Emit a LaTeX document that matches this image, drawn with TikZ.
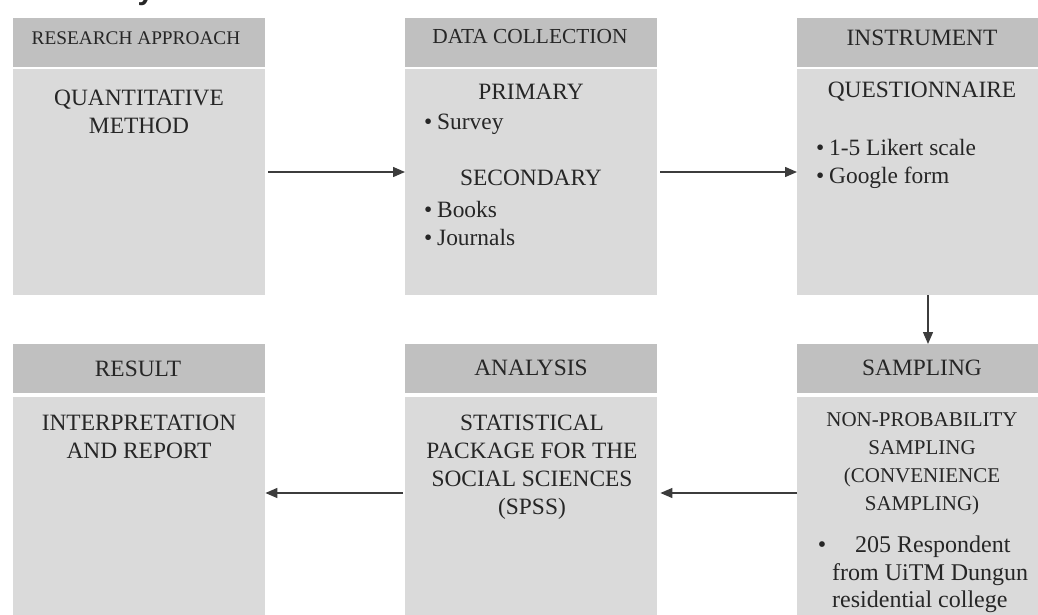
\documentclass[tikz,border=0pt]{standalone}
\usepackage{fontspec}
\setmainfont{Liberation Serif}
\newfontfamily\captionsans{Liberation Sans}
\usetikzlibrary{arrows.meta}
\definecolor{headgray}{RGB}{192,192,192}
\definecolor{bodygray}{RGB}{218,218,218}
\definecolor{ink}{RGB}{38,38,38}
\definecolor{linegray}{RGB}{60,60,60}
\tikzset{
  headbox/.style={fill=headgray, draw=none, inner sep=0pt, minimum width=252pt,
                  minimum height=49pt, anchor=north west},
  bodybox/.style={fill=bodygray, draw=none, inner sep=0pt, minimum width=252pt,
                  minimum height=#1, anchor=north west},
  headtxt/.style={text=ink, inner sep=0pt, anchor=base,
                  font=\fontsize{#1}{28}\selectfont},
  headtxt/.default=23.4,
  % multi-line blocks: the base anchor sits on the last line
  bodytxt/.style={text=ink, inner sep=0pt, anchor=base, align=center,
                  font=\fontsize{#1}{28}\selectfont},
  bodytxt/.default=23.4,
  itemtxt/.style={text=ink, inner sep=0pt, anchor=base west,
                  font=\fontsize{#1}{28}\selectfont},
  itemtxt/.default=23.4,
  flow/.style={draw=linegray, line width=1.4pt, -{Triangle[length=12pt,width=10pt]}}
}
\newcommand\itembullet{\llap{\textbullet\hspace{5pt}}}
\begin{document}
\begin{tikzpicture}[x=1pt,y=-1pt]
\useasboundingbox (0,0) rectangle (1038,615);

% caption fragment running off the top edge
\node[text=ink, inner sep=0pt, anchor=base, font=\captionsans\bfseries\fontsize{30}{30}\selectfont]
  (cap) at (146,0) {y};

% ---- top row ----
\node[headbox] (h1) at (13,18) {};
\node[bodybox=226pt] (b1) at (13,69) {};
\node[headbox] (h2) at (405,18) {};
\node[bodybox=226pt] (b2) at (405,69) {};
\node[headbox] (h3) at (797,18) {};
\node[bodybox=226pt] (h3b) at (797,69) {};

% ---- bottom row ----
\node[headbox] (h4) at (13,344) {};
\node[bodybox=240pt] (b4) at (13,397) {};
\node[headbox] (h5) at (405,344) {};
\node[bodybox=240pt] (b5) at (405,397) {};
\node[headbox] (h6) at (797,344) {};
\node[bodybox=240pt] (b6) at (797,397) {};

% ---- headings ----
\node[headtxt=19.3] (t1) at (136,45) {RESEARCH APPROACH};
\node[headtxt=21.4] (t2) at (530,44) {DATA COLLECTION};
\node[headtxt] (t3) at (922,46) {INSTRUMENT};
\node[headtxt] (t4) at (138,376) {RESULT};
\node[headtxt] (t5) at (531,375) {ANALYSIS};
\node[headtxt] (t6) at (922,375) {SAMPLING};

% ---- research approach ----
\node[bodytxt] (qm) at (139,133) {QUANTITATIVE\\METHOD};

% ---- data collection ----
\node[bodytxt] (pri) at (531,100) {PRIMARY};
\node[itemtxt] (sv) at (437,130) {\itembullet Survey};
\node[bodytxt] (sec) at (531,185) {SECONDARY};
\node[itemtxt] (bk) at (437,217) {\itembullet Books};
\node[itemtxt] (jn) at (437,245) {\itembullet Journals};

% ---- instrument ----
\node[bodytxt] (qn) at (922,98) {QUESTIONNAIRE};
\node[itemtxt] (lk) at (829,155) {\itembullet 1-5 Likert scale};
\node[itemtxt] (gf) at (829,183) {\itembullet Google form};

% ---- result ----
\node[bodytxt] (ir) at (139,458) {INTERPRETATION\\AND REPORT};

% ---- analysis ----
\node[bodytxt] (sp) at (532,514) {STATISTICAL\\PACKAGE FOR THE\\SOCIAL SCIENCES\\(SPSS)};

% ---- sampling ----
\node[bodytxt=21] (np) at (922,510) {NON-PROBABILITY\\SAMPLING\\(CONVENIENCE\\SAMPLING)};
\node[itemtxt=24] (rs1) at (855,552) {205 Respondent};
\node[text=ink, inner sep=0pt, anchor=base, font=\fontsize{24}{28}\selectfont] (bl) at (822,552) {\textbullet};
\node[itemtxt=24] (rs2) at (832,580) {from UiTM Dungun};
\node[itemtxt=24] (rs3) at (832,607) {residential college};

% ---- connectors ----
\draw[flow] ([xshift=3pt]b1.east |- 0,172) -- (b2.west |- 0,172);
\draw[flow] ([xshift=3pt]b2.east |- 0,172) -- (h3b.west |- 0,172);
\draw[flow] (h3b.south -| 928,0) -- (h6.north -| 928,0);
\draw[flow] (b6.west |- 0,493) -- ([xshift=3pt]b5.east |- 0,493);
\draw[flow] ([xshift=-2pt]b5.west |- 0,493) -- (b4.east |- 0,493);
\end{tikzpicture}
\end{document}
